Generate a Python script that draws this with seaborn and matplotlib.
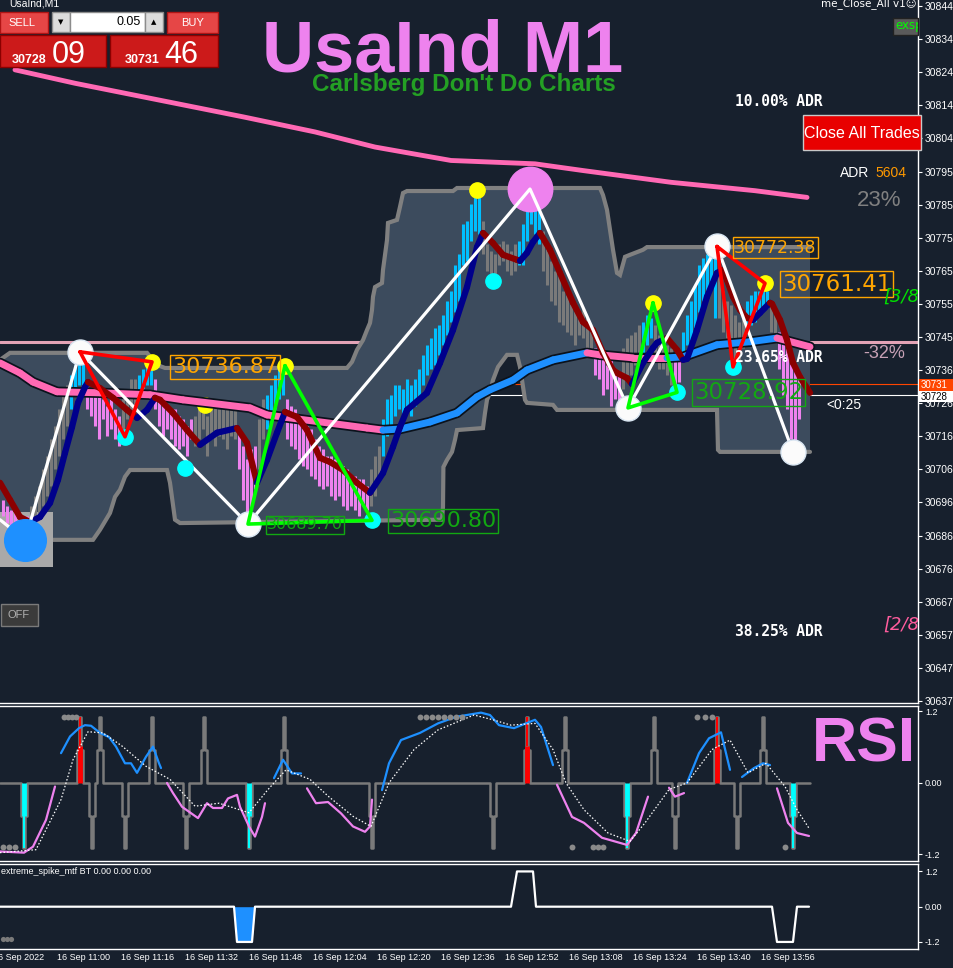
import numpy as np
import pandas as pd
import matplotlib
matplotlib.use('Agg')
import matplotlib.pyplot as plt
from matplotlib.patches import Rectangle
import seaborn as sns

sns.set_theme(style='dark')
plt.rcParams['font.family'] = ['DejaVu Sans']

BG = '#17202d'
BAND = '#3c4b5d'
VIOLET = '#ee82ee'
SKY = '#00bfff'
GREEN_LBL = '#12a812'
ORANGE = '#ffa500'

# ---------------- data: main price panel (x = minutes after 11:00) ----------------
bar_t = np.arange(-13, 187)
bar_hi = [30697, 30695, 30694, 30694, 30693, 30692, 30692, 30695, 30698, 30701,
          30706, 30710, 30715, 30719, 30724, 30728, 30731, 30734, 30737, 30740,
          30738, 30731, 30730, 30728, 30730, 30727, 30725, 30727, 30724, 30722,
          30727, 30730, 30733, 30733, 30734, 30736, 30739, 30737, 30733, 30728,
          30727, 30725, 30724, 30724, 30722, 30721, 30719, 30721, 30722, 30724,
          30725, 30722, 30724, 30725, 30724, 30725, 30724, 30725, 30724, 30718,
          30713, 30709, 30712, 30713, 30721, 30727, 30728, 30731, 30734, 30736,
          30736, 30727, 30725, 30724, 30722, 30721, 30719, 30718, 30715, 30713,
          30712, 30710, 30710, 30709, 30707, 30707, 30706, 30704, 30704, 30703,
          30703, 30701, 30706, 30710, 30713, 30721, 30727, 30728, 30731, 30731,
          30730, 30733, 30731, 30733, 30736, 30740, 30743, 30745, 30748, 30749,
          30752, 30756, 30759, 30767, 30770, 30779, 30780, 30785, 30788, 30789,
          30780, 30773, 30771, 30770, 30773, 30774, 30773, 30771, 30773, 30774,
          30779, 30786, 30789, 30788, 30786, 30777, 30773, 30768, 30765, 30764,
          30759, 30758, 30756, 30755, 30752, 30754, 30751, 30748, 30742, 30740,
          30739, 30737, 30739, 30736, 30734, 30742, 30745, 30746, 30747, 30749,
          30750, 30752, 30751, 30749, 30746, 30745, 30743, 30742, 30740, 30739,
          30747, 30752, 30756, 30761, 30767, 30769, 30770, 30771, 30771, 30764,
          30759, 30756, 30755, 30752, 30750, 30752, 30756, 30758, 30759, 30759,
          30760, 30759, 30755, 30753, 30747, 30745, 30742, 30739, 30736, 30734]
bar_lo = [30692, 30690, 30689, 30688, 30688, 30688, 30687, 30689, 30691, 30692,
          30695, 30698, 30701, 30706, 30710, 30715, 30719, 30724, 30728, 30731,
          30730, 30724, 30722, 30719, 30715, 30721, 30716, 30718, 30715, 30713,
          30718, 30721, 30722, 30725, 30728, 30730, 30731, 30731, 30724, 30719,
          30716, 30718, 30715, 30713, 30712, 30713, 30710, 30715, 30713, 30715,
          30718, 30710, 30715, 30713, 30716, 30715, 30712, 30716, 30715, 30706,
          30697, 30692, 30694, 30700, 30706, 30715, 30718, 30721, 30724, 30727,
          30728, 30715, 30713, 30712, 30709, 30707, 30706, 30704, 30703, 30701,
          30700, 30701, 30698, 30697, 30698, 30695, 30694, 30695, 30694, 30692,
          30695, 30694, 30695, 30698, 30703, 30710, 30716, 30719, 30722, 30724,
          30721, 30724, 30722, 30725, 30727, 30731, 30734, 30736, 30737, 30740,
          30743, 30746, 30750, 30753, 30756, 30767, 30768, 30774, 30777, 30776,
          30770, 30765, 30762, 30764, 30767, 30768, 30765, 30764, 30765, 30767,
          30767, 30774, 30779, 30776, 30773, 30765, 30761, 30756, 30755, 30750,
          30749, 30747, 30746, 30743, 30746, 30745, 30742, 30740, 30734, 30733,
          30728, 30730, 30725, 30727, 30725, 30730, 30733, 30734, 30737, 30738,
          30740, 30743, 30745, 30740, 30736, 30736, 30734, 30731, 30731, 30732,
          30740, 30743, 30744, 30748, 30753, 30756, 30759, 30761, 30751, 30751,
          30747, 30745, 30742, 30738, 30737, 30742, 30747, 30749, 30750, 30752,
          30754, 30754, 30747, 30746, 30736, 30728, 30724, 30715, 30713, 30721]
bar_code = ('v' * 7 + 'g' * 10 + 'c' * 4 + 'v' * 9 + 'g' * 4 + 'c' * 4 + 'v' * 10 +
            'g' * 11 + 'v' * 5 + 'g' * 2 + 'c' * 5 + 'v' * 21 + 'g' * 3 + 'c' * 25 +
            'g' * 9 + 'c' * 6 + 'g' * 13 + 'v' * 7 + 'g' * 5 + 'c' * 3 + 'g' * 5 +
            'v' * 2 + 'c' * 9 + 'g' * 7 + 'c' * 6 + 'g' * 2 + 'v' * 6)

long_t = [-10, 5, 26, 47, 65, 80, 99, 120, 132, 154, 175, 188]
long_p = [30825, 30821, 30816, 30811, 30806.5, 30802, 30798, 30797, 30795, 30791.5, 30789, 30787]

mid_t = [-13.75, -8.75, -5.5, 0.5, 11.25, 23.75, 32, 48.75, 53, 78, 82, 86.25, 93.75, 100.5,
         105.5, 108.75, 114.5, 118, 124.5, 133, 136.25, 144.5, 153, 157, 165.5, 173.75, 180.5, 188.75]
mid_p = [30737.7, 30734.7, 30732.0, 30729.1, 30728.8, 30728.2, 30726.7, 30724.3, 30722.2, 30718.3,
         30717.7, 30718.0, 30720.1, 30722.8, 30727.6, 30729.7, 30732.6, 30735.6, 30738.6, 30740.7,
         30740.1, 30739.2, 30739.2, 30739.5, 30743.1, 30744.0, 30745.1, 30742.5]

ma_t = [-13.75, -11.25, -8.75, -6.25, -3.75, -1.25, 0.75, 2.5, 4.25, 5.75, 7.5, 8.25, 11.25, 14.5,
        18, 20.5, 23, 25, 26.25, 29.5, 33, 36.25, 40.5, 45.5, 48, 50.5, 53, 55.5, 57.5, 60.5, 63,
        66.25, 68.75, 72, 75.5, 78.75, 82, 84.5, 86.25, 88, 93, 96.25, 99.5, 103, 105.5, 107, 109.5,
        112, 115.5, 116.25, 118, 119.5, 121.25, 123.75, 126.25, 129.5, 132, 134.5, 137, 139.5,
        140.5, 143, 144.25, 147, 149.5, 150.5, 153, 155.5, 157, 158, 160.5, 163, 165.5, 167, 168,
        169.5, 171.25, 173, 174.5, 176.25, 178.75, 179.25, 181.25, 183, 184.5, 186.25, 188.75]
ma_p = [30702.0, 30696.9, 30691.8, 30690.3, 30691.8, 30696.0, 30702.9, 30710.9, 30718.6, 30725.8,
        30730.5, 30732.0, 30730.2, 30727.3, 30723.7, 30721.3, 30723.7, 30727.3, 30726.7, 30722.8,
        30717.7, 30713.3, 30716.9, 30718.3, 30713.9, 30702.0, 30708.8, 30716.9, 30723.1, 30721.6,
        30717.7, 30709.4, 30708.2, 30705.8, 30702.0, 30699.0, 30704.9, 30712.7, 30718.6, 30723.7,
        30728.8, 30737.7, 30747.5, 30760.3, 30772.2, 30776.4, 30773.4, 30769.9, 30768.4, 30768.1,
        30770.5, 30773.7, 30776.4, 30771.4, 30764.5, 30755.6, 30749.9, 30747.5, 30740.7, 30735.6,
        30734.7, 30733.2, 30731.4, 30737.7, 30742.2, 30743.7, 30745.1, 30741.6, 30738.6, 30738.9,
        30747.5, 30757.4, 30764.5, 30765.4, 30762.4, 30757.4, 30753.5, 30751.1, 30750.5, 30752.6,
        30755.6, 30755.3, 30750.5, 30744.5, 30737.7, 30733.5, 30728.8]

band_up_t = [-13.75, -11.25, 23, 25.5, 27.5, 73, 74.25, 75.5, 77, 78, 78.75, 79.25, 79.5, 80,
             81.75, 82, 83, 83.25, 85.5, 86.25, 87, 88, 99.5, 100.5, 136.25, 137, 138, 139.5,
             140.5, 141.25, 142.5, 143.75, 147, 148, 188.75]
band_up_p = [30738.6, 30740.7, 30740.7, 30737.1, 30736.2, 30736.2, 30738.0, 30741.6, 30744.5,
             30747.5, 30749.6, 30753.5, 30757.4, 30760.3, 30761.5, 30765.4, 30774.3, 30779.4,
             30780.3, 30784.2, 30788.3, 30788.9, 30788.9, 30789.8, 30789.8, 30787.7, 30783.3,
             30771.4, 30764.5, 30763.9, 30769.3, 30769.9, 30771.4, 30772.2, 30772.2]
band_lo_t = [-13.75, 9.5, 11.25, 13.75, 15, 16.25, 17.5, 18.75, 28, 28.75, 30, 31.25, 96.75, 97,
             97.1, 98, 99.25, 100, 100.5, 107, 107.5, 108, 108.75, 109.5, 110.75, 113, 115.5,
             116.25, 117.5, 118, 124.5, 125.5, 165.5, 165.75, 166.25, 188.75]
band_lo_p = [30685.0, 30685.0, 30688.0, 30693.0, 30697.8, 30699.9, 30703.8, 30705.8, 30705.8,
             30702.0, 30691.0, 30690.0, 30691.0, 30694.8, 30706.7, 30708.8, 30711.2, 30714.8,
             30717.7, 30718.3, 30722.8, 30726.7, 30728.8, 30732.6, 30736.5, 30740.1, 30740.1,
             30736.5, 30726.7, 30725.8, 30725.2, 30723.7, 30723.7, 30711.8, 30711.2, 30711.2]

zz_t = [-13.75, -7.5, 6.25, 48.25, 118.75, 143.25, 165.5, 184.5]
zz_p = [30691.0, 30685.0, 30741.0, 30689.70, 30789.5, 30724.3, 30772.38, 30711.2]

white_t = [6.25, 48.25, 143.25, 165.5, 184.5]
white_p = [30741.0, 30689.70, 30724.3, 30772.38, 30711.2]
yellow_t = [24.25, 57.5, 105.5, 149.5, 177.5]
yellow_p = [30738.0, 30736.87, 30789.2, 30755.6, 30761.41]
yellow_hidden_t = [37.5]
yellow_hidden_p = [30725.2]
cyan_t = [17.5, 32.5, 109.5, 79.25, 155.5, 169.5]
cyan_p = [30715.7, 30706.4, 30762.1, 30690.80, 30728.92, 30736.5]

red_tri = [[(6.25, 30741.0), (24.25, 30738.0), (17.5, 30715.7)],
           [(165.5, 30772.38), (177.5, 30761.41), (169.5, 30736.5)]]
green_tri = [[(57.5, 30736.87), (48.25, 30689.70), (79.25, 30690.80)],
             [(149.5, 30755.6), (143.25, 30724.3), (155.5, 30728.92)]]

price_labels = ['30736.87', '30690.80', '30689.70', '30728.92', '30772.38', '30761.41']
label_t = [29.25, 83.75, 53, 159.75, 169.75, 181.75]
label_p = [30736.5, 30690.6, 30689.5, 30728.8, 30772.0, 30761.2]
label_col = [ORANGE, GREEN_LBL, GREEN_LBL, GREEN_LBL, ORANGE, ORANGE]
label_size = [16, 16, 11.5, 16.5, 12.5, 16.5]

level_price = 30744.0
bid, ask = 30728.09, 30731.46
main_ticks = ['30844', '30834', '30824', '30814', '30804', '30795', '30785', '30775', '30765',
              '30755', '30745', '30736', '30726', '30716', '30706', '30696', '30686', '30676',
              '30667', '30657', '30647', '30637']

# ---------------- data: RSI panel ----------------
rsi_t = [-13.75, -7.75, -5.5, -2.25, 0,
         1.5, 3.75, 6, 7.5, 9, 11.25, 13.5, 15.25, 17.5, 19, 20.5, 22.75, 24.5, 26, 26.5,
         28, 29.5, 31.75, 35.75, 38, 39.5, 41.75, 43.25, 45.5, 46.25, 48.5, 50, 51.75, 52.5,
         54.75, 57, 59.25, 61.5,
         63, 65.25, 68.25, 71.5, 74.5, 77.5, 78.75, 79.25,
         81.75, 83.5, 86.5, 91.25, 95.75, 100.25, 106.5, 108.75, 111, 114.75, 120, 121.5, 124.5,
         125.5, 129.25, 132.25, 136.75, 143, 145.25, 148.25, 150, 153.5, 155, 157.25,
         158, 161, 163.5, 166.5, 168.75, 170, 171.75, 174.75, 177, 178.75,
         180.5, 183.25, 185.5, 188.5]
rsi_v = [-1.15, -1.17, -1.07, -0.62, -0.06,
         0.5, 0.78, 0.92, 0.97, 0.96, 0.84, 0.77, 0.61, 0.33, 0.33, 0.17, 0.44, 0.61, 0.33, 0.25,
         0, -0.17, -0.40, -0.59, -0.34, -0.42, -0.42, -0.26, -0.2, -0.40, -0.73, -0.90, -0.57, -0.34,
         0.08, 0.39, 0.16, 0.16,
         -0.09, -0.34, -0.32, -0.51, -0.73, -0.82, -0.73, -0.28,
         -0.12, 0.33, 0.72, 0.84, 1.0, 1.11, 1.18, 1.14, 0.97, 0.92, 1.06, 0.94, 0.30,
         -0.03, -0.57, -0.67, -0.92, -1.04, -0.84, -0.23, np.nan, -0.08, -0.23, -0.17,
         0, 0.5, 0.75, 0.85, 0.22, np.nan, 0.1, 0.25, 0.33, 0.30,
         -0.09, -0.67, -0.84, -0.89]
rsi_code = 'v' * 5 + 'b' * 15 + 'v' * 14 + 'b' * 4 + 'v' * 8 + 'b' * 13 + 'v' * 11 + 'b' * 10 + 'v' * 4

sig_t = [-13.75, -4.75, 1.5, 4.5, 8.25, 12, 16.75, 22.75, 28.75, 35, 41, 48.5, 53.25, 57.75, 63.75,
         68.25, 74.5, 79, 83.5, 89.75, 95.75, 104.75, 109.5, 114, 120, 124.5, 127.75, 132.25,
         138.25, 143.75, 147.5, 153.5, 158, 164.25, 168.75, 173.25, 177.75, 182.5, 185.5, 188.5]
sig_v = [-1.17, -1.12, -0.28, 0.39, 0.86, 0.84, 0.62, 0.28, 0.06, -0.39, -0.34, -0.5, -0.11, 0.22,
         0.06, -0.22, -0.56, -0.73, 0, 0.56, 0.89, 1.14, 1.06, 0.97, 1.0, 0.56, 0, -0.45, -0.84,
         -0.98, -0.67, -0.11, 0, 0.56, 0.72, 0.17, 0.33, -0.06, -0.45, -0.76]

spike_up = [6.25, 11.25, 24.25, 37.25, 57.25, 118, 127.5, 149.75, 165.5, 177]
spike_dn = [-7.75, 9.25, 17.5, 32.75, 48.5, 79.25, 109.5, 143, 155, 170.5, 184.5]
red_bar_t = [6.25, 118, 165.5]
cyan_bar_t = [-7.75, 48.5, 143, 184.5]
dot_top_t = [2.25, 3.25, 4.25, 5.25, 91.25, 92.75, 94.25, 95.75, 97.25, 98.75, 100.25, 101.75,
             160.5, 162.5, 164.25]
dot_bot_t = [-13, -11.5, -10, 129.25, 134.5, 135.75, 137, 182.5]

# ---------------- data: extreme spike panel ----------------
xs_t = [-13.75, 44.75, 45.5, 49.25, 50, 114, 115.5, 119.5, 120.25, 179.25, 180.5, 184.5, 185.5, 188.5]
xs_v = [0, 0, -1.2, -1.2, 0, 0, 1.2, 1.2, 0, 0, -1.2, -1.2, 0, 0]

time_ticks = [-16, 0, 16, 32, 48, 64, 80, 96, 112, 128, 144, 160, 176]
time_labels = ['16 Sep 2022', '16 Sep 11:00', '16 Sep 11:16', '16 Sep 11:32', '16 Sep 11:48',
               '16 Sep 12:04', '16 Sep 12:20', '16 Sep 12:36', '16 Sep 12:52', '16 Sep 13:08',
               '16 Sep 13:24', '16 Sep 13:40', '16 Sep 13:56']

# ---------------- figure ----------------
W, H = 954, 968
fig = plt.figure(figsize=(W / 100, H / 100), dpi=100)
fig.patch.set_facecolor(BG)


def rows(y0, y1):
    return [0, 1 - y1 / H, 918 / W, (y1 - y0) / H]


ax = fig.add_axes(rows(0, 703))
ax_rsi = fig.add_axes(rows(705.5, 861))
ax_sp = fig.add_axes(rows(863.5, 949))
ov = fig.add_axes([0, 0, 1, 1], zorder=10)
ov.set_xlim(0, W)
ov.set_ylim(H, 0)
ov.axis('off')
ov.patch.set_alpha(0)

for a, top in ((ax, False), (ax_rsi, True), (ax_sp, True)):
    a.set_facecolor(BG)
    a.set_xlim(-13.75, 215.75)
    a.spines['left'].set_visible(False)
    a.spines['top'].set_visible(top)
    for s in ('top', 'bottom', 'right'):
        a.spines[s].set_color('white')
        a.spines[s].set_linewidth(1)
    a.set_xticks([])
    a.yaxis.tick_right()
    a.tick_params(axis='y', right=True, left=False, length=3, width=0.8, color='white',
                  labelcolor='white', labelsize=7.5, pad=2)
    a.grid(False)

# ----- main panel -----
ax.set_ylim(30636.4, 30845.8)
ax.set_yticks(np.linspace(30844.0, 30637.0, len(main_ticks)))
ax.set_yticklabels(main_ticks, family='Liberation Sans', fontsize=7.5)

ax.axhline(level_price, color='#e3a3b6', lw=2.2, zorder=1)
ax.axhline(ask, color='#ff4500', lw=0.8, zorder=1)
ax.axhline(bid, color='white', lw=0.8, zorder=1)

ax.fill(band_up_t + band_lo_t[::-1], band_up_p + band_lo_p[::-1], color=BAND, lw=0, zorder=2)
ax.plot(band_up_t, band_up_p, color='#808080', lw=3, zorder=3, solid_joinstyle='miter')
ax.plot(band_lo_t, band_lo_p, color='#808080', lw=3, zorder=3, solid_joinstyle='miter')
ax.add_patch(Rectangle((-13.75, 30677.0), 13.25, 16.3, fc='#a9a9a9', ec='none', zorder=3.5))

bar_colors = {'v': VIOLET, 'c': SKY, 'g': '#7a7a7a'}
ax.vlines(bar_t, bar_lo, bar_hi, colors=[bar_colors[c] for c in bar_code], lw=2.2, zorder=4)

sns.lineplot(x=long_t, y=long_p, ax=ax, color='#ff69b4', lw=3.5, zorder=5, estimator=None)
ax.plot(yellow_hidden_t, yellow_hidden_p, 'o', ms=11, color='#ffff00', ls='none', zorder=4.5)

# middle MA: dark outline, pink falling / blue rising
ax.plot(mid_t, mid_p, color='#0b121c', lw=7.5, zorder=5, solid_capstyle='round')
for i in range(len(mid_t) - 1):
    col = '#1e90ff' if mid_p[i + 1] > mid_p[i] else '#ff69b4'
    ax.plot(mid_t[i:i + 2], mid_p[i:i + 2], color=col, lw=5, zorder=5.5, solid_capstyle='round')

# fast MA: navy rising / dark red falling
for i in range(len(ma_t) - 1):
    col = '#00008b' if ma_p[i + 1] > ma_p[i] else '#8b0000'
    ax.plot(ma_t[i:i + 2], ma_p[i:i + 2], color=col, lw=4.5, zorder=6, solid_capstyle='round')

sns.lineplot(x=zz_t, y=zz_p, ax=ax, color='white', lw=2.3, zorder=7, sort=False, estimator=None)

ax.plot(zz_t[1], zz_p[1], 'o', ms=30, color='#1e90ff', zorder=8)
ax.plot(zz_t[4], zz_p[4], 'o', ms=32, color=VIOLET, zorder=6.5)
ax.plot(white_t, white_p, 'o', ms=18, color='#fbfbfb', mec='#d9e6f2', mew=1, ls='none', zorder=8)
ax.plot(yellow_t, yellow_p, 'o', ms=11, color='#ffff00', ls='none', zorder=8)
ax.plot(cyan_t, cyan_p, 'o', ms=11, color='#00ffff', ls='none', zorder=8)

for tri in red_tri:
    tx, ty = zip(*(tri + tri[:1]))
    ax.plot(tx, ty, color='#ff0000', lw=2.6, zorder=9)
for tri in green_tri:
    tx, ty = zip(*(tri + tri[:1]))
    ax.plot(tx, ty, color='#00ff00', lw=2.6, zorder=9)

for txt, lt, lp, lc, ls in zip(price_labels, label_t, label_p, label_col, label_size):
    ax.text(lt, lp, txt, color=lc, fontsize=ls, va='center', ha='left', zorder=10,
            bbox=dict(boxstyle='square,pad=0.08', fc='none', ec=lc, lw=1))

# texts cut at the price axis
clip_texts = [(883, 297, '[3/8', '#00e000', 13), (883, 625, '[2/8', '#ff5c9d', 13)]
for x, y, s, c, fs in clip_texts:
    ax.text(x, y, s, color=c, fontsize=fs, style='italic', va='center', ha='left',
            transform=ov.transData, clip_on=True, zorder=11)

# ----- RSI panel -----
ax_rsi.set_ylim(-1.31, 1.30)
ax_rsi.set_yticks([1.2, 0, -1.2])
ax_rsi.set_yticklabels(['1.2', '0.00', '-1.2'], fontsize=6.5, family='Liberation Sans')

spikes = sorted([(t, 1) for t in spike_up] + [(t, -1) for t in spike_dn])
gx, gy = [-13.75], [0]
for t, s in spikes:
    gx += [t - 0.7, t - 0.7, t - 0.25, t - 0.25, t + 0.25, t + 0.25, t + 0.7, t + 0.7]
    gy += [0, 0.55 * s, 0.55 * s, 1.1 * s, 1.1 * s, 0.55 * s, 0.55 * s, 0]
gx.append(188.75)
gy.append(0)
ax_rsi.plot(gx, gy, color='#7a7a7a', lw=1.8, zorder=2)

ax_rsi.vlines(red_bar_t, 0, 0.62, color='#ff0000', lw=3.5, zorder=3)
ax_rsi.vlines(red_bar_t, 0.62, 1.1, color='#ff0000', lw=1.5, zorder=3)
ax_rsi.vlines(cyan_bar_t, -0.55, 0, color='#00ffff', lw=3.5, zorder=3)
ax_rsi.vlines(cyan_bar_t, -1.1, -0.55, color='#00ffff', lw=1.5, zorder=3)

rsi_colors = {'b': '#1e90ff', 'v': VIOLET}
start = 0
for i in range(1, len(rsi_t) + 1):
    if i == len(rsi_t) or rsi_code[i] != rsi_code[start]:
        ax_rsi.plot(rsi_t[start:i], rsi_v[start:i], color=rsi_colors[rsi_code[start]], lw=1.6, zorder=4)
        start = i

sns.lineplot(x=sig_t, y=sig_v, ax=ax_rsi, color='white', lw=0.9, ls=(0, (1.2, 1.6)), zorder=5,
             estimator=None)
ax_rsi.scatter(dot_top_t, [1.1] * len(dot_top_t), s=18, color='#8a8a8a', zorder=5, lw=0)
ax_rsi.scatter(dot_bot_t, [-1.08] * len(dot_bot_t), s=18, color='#8a8a8a', zorder=5, lw=0)
ax_rsi.set_xlabel('')
ax_rsi.set_ylabel('')

# ----- extreme spike panel -----
ax_sp.set_ylim(-1.44, 1.47)
ax_sp.set_yticks([1.2, 0, -1.2])
ax_sp.set_yticklabels(['1.2', '0.00', '-1.2'], fontsize=6.5, family='Liberation Sans')
ax_sp.fill_between(xs_t[1:5], xs_v[1:5], 0, color='#1e90ff', lw=0, zorder=2)
sns.lineplot(x=xs_t, y=xs_v, ax=ax_sp, color='white', lw=1.6, zorder=3, sort=False, estimator=None)
ax_sp.scatter([-13, -12, -11], [-1.1] * 3, s=14, color='#7a7a7a', lw=0, zorder=3)
ax_sp.set_xlabel('')
ax_sp.set_ylabel('')
for t, lab in zip(time_ticks, time_labels):
    ax_sp.text(t + 0.5, -0.105, lab, transform=ax_sp.get_xaxis_transform(), color='white',
               fontsize=6.5, family='Liberation Sans', ha='left', va='center', clip_on=False)
ax.set_xlabel('')
ax.set_ylabel('')

# ---------------- overlay (pixel coordinates) ----------------
def box(x0, y0, x1, y1, fc, ec='none', lw=1):
    ov.add_patch(Rectangle((x0, y0), x1 - x0, y1 - y0, fc=fc, ec=ec, lw=lw, zorder=1))


box(0, 12, 48, 33, '#e64646', '#b01414')
box(52, 12, 70, 32, '#dcdcdc', '#8c8c8c')
box(70, 12, 145, 32, 'white', '#8c8c8c')
box(145, 12, 163, 32, '#dcdcdc', '#8c8c8c')
box(167, 12, 218, 33, '#e64646', '#b01414')
box(0, 35, 106, 67, '#cc1a1a', '#8a0000')
box(110, 35, 218, 67, '#cc1a1a', '#8a0000')
box(803, 115, 921, 150, '#e80000', '#c8c8c8')
box(893, 18, 918, 35, '#5a5a5a', '#222222')
box(1, 604, 38, 626, '#3b3b3b', '#7a7a7a')
box(919, 379, 954, 391, '#ff4500')
box(919, 391, 954, 402, 'white')

LS = 'Liberation Sans'
exs = ov.text(895, 26, 'exspil', color='#00ff00', fontsize=8.5, va='center', ha='left', zorder=3)
exs.set_clip_on(True)
exs.set_clip_path(ax.patch)

ov.text(9, 4, 'UsaInd,M1', color='white', fontsize=7.5, family=LS, va='center')
ov.text(22, 23, 'SELL', color='white', fontsize=8, family=LS, ha='center', va='center')
ov.text(193, 23, 'BUY', color='white', fontsize=8, family=LS, ha='center', va='center')
ov.text(61, 22, '▼', color='black', fontsize=5, ha='center', va='center')
ov.text(154, 22, '▲', color='black', fontsize=5, ha='center', va='center')
ov.text(141, 22, '0.05', color='black', fontsize=9, family=LS, ha='right', va='center')
ov.text(12, 63, '30728', color='white', fontsize=9, fontweight='bold', family=LS, va='baseline')
ov.text(52, 63, '09', color='white', fontsize=22, family=LS, va='baseline')
ov.text(125, 63, '30731', color='white', fontsize=9, fontweight='bold', family=LS, va='baseline')
ov.text(164, 63, '46', color='white', fontsize=22, family=LS, va='baseline')

ov.text(262, 71, 'UsaInd M1', color=VIOLET, fontsize=52, fontweight='bold', family=LS, va='baseline')
ov.text(312, 91, "Carlsberg Don't Do Charts", color='#24a024', fontsize=17.5, fontweight='bold',
        family=LS, va='baseline')
ov.text(812, 762, 'RSI', color=VIOLET, fontsize=45, fontweight='bold', family=LS, va='baseline')

ov.text(917, 4, 'me_Close_All v1☺', color='white', fontsize=7.5, ha='right', va='center')
ov.text(862, 133, 'Close All Trades', color='white', fontsize=11.5, family=LS, ha='center', va='center')
for y, s in ((101, '10.00% ADR'), (358, '23.65% ADR'), (632, '38.25% ADR')):
    ov.text(735, y, s, color='white', fontsize=10.5, fontweight='bold', family='DejaVu Sans Mono',
            va='center')
ov.text(840, 173, 'ADR', color='white', fontsize=10, family=LS, va='center')
ov.text(875, 173, '5604', color='#ff9900', fontsize=10, family=LS, va='center')
ov.text(857, 200, '23%', color='#808080', fontsize=16, family=LS, va='center')
ov.text(863, 353, '-32%', color='#c8a2b6', fontsize=13, family=LS, va='center')
ov.text(826, 405, '<0:25', color='white', fontsize=10, family=LS, va='center')
ov.text(19, 615, 'OFF', color='#b0b0b0', fontsize=8, family=LS, ha='center', va='center')
ov.text(921, 385, '30731', color='white', fontsize=7, family=LS, va='center')
ov.text(921, 397, '30728', color='black', fontsize=7, family=LS, va='center')
ov.text(1, 872, 'extreme_spike_mtf BT 0.00 0.00 0.00', color='white', fontsize=6.5, family=LS,
        va='center')

fig.savefig('out.png', dpi=100, facecolor=BG)
